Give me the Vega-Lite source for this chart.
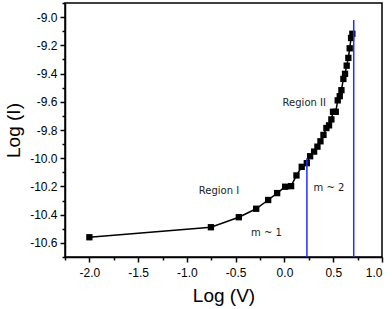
{
  "$schema": "https://vega.github.io/schema/vega-lite/v6.json",
  "width": 317,
  "height": 254,
  "autosize": {"type": "none"},
  "padding": {"left": 65, "top": 3, "right": 10, "bottom": 52},
  "background": "white",
  "config": {
    "locale": {"number": {"decimal": ".", "thousands": ",", "grouping": [3], "currency": ["$", ""], "minus": "-"}},
    "view": {"stroke": "black", "strokeWidth": 1.5},
    "axis": {
      "grid": false,
      "domainColor": "black",
      "domainWidth": 1.5,
      "tickColor": "black",
      "tickWidth": 1.5,
      "tickSize": 5,
      "labelFont": "Liberation Sans",
      "labelFontSize": 12,
      "labelColor": "black",
      "labelPadding": 3,
      "titleFont": "Liberation Sans",
      "titleFontSize": 19,
      "titleFontWeight": "normal",
      "titleColor": "black"
    }
  },
  "datasets": {
    "iv": [
      {"logV": -2.0, "logI": -10.56},
      {"logV": -0.754, "logI": -10.489},
      {"logV": -0.468, "logI": -10.418},
      {"logV": -0.29, "logI": -10.358},
      {"logV": -0.167, "logI": -10.296},
      {"logV": -0.075, "logI": -10.247},
      {"logV": 0.007, "logI": -10.202},
      {"logV": 0.068, "logI": -10.198},
      {"logV": 0.123, "logI": -10.122},
      {"logV": 0.177, "logI": -10.061},
      {"logV": 0.229, "logI": -10.035},
      {"logV": 0.263, "logI": -9.986},
      {"logV": 0.304, "logI": -9.953},
      {"logV": 0.338, "logI": -9.918},
      {"logV": 0.369, "logI": -9.88},
      {"logV": 0.4, "logI": -9.835},
      {"logV": 0.43, "logI": -9.786},
      {"logV": 0.457, "logI": -9.767},
      {"logV": 0.481, "logI": -9.725},
      {"logV": 0.498, "logI": -9.671},
      {"logV": 0.526, "logI": -9.671},
      {"logV": 0.546, "logI": -9.59},
      {"logV": 0.567, "logI": -9.56},
      {"logV": 0.584, "logI": -9.518},
      {"logV": 0.604, "logI": -9.438},
      {"logV": 0.621, "logI": -9.402},
      {"logV": 0.638, "logI": -9.344},
      {"logV": 0.655, "logI": -9.289},
      {"logV": 0.669, "logI": -9.221},
      {"logV": 0.683, "logI": -9.148},
      {"logV": 0.696, "logI": -9.118}
    ],
    "rules": [
      {"logV": 0.23, "top": -10.0, "bottom": -10.7},
      {"logV": 0.71, "top": -9.02, "bottom": -10.7}
    ],
    "labels": [
      {"logV": -0.671, "logI": -10.23, "text": "Region I"},
      {"logV": 0.203, "logI": -9.611, "text": "Region II"},
      {"logV": -0.184, "logI": -10.532, "text": "m ~ 1"},
      {"logV": 0.456, "logI": -10.209, "text": "m ~ 2"}
    ]
  },
  "resolve": {"axis": {"x": "independent", "y": "independent"}},
  "layer": [
    {
      "data": {"name": "iv"},
      "mark": {"type": "line", "color": "black", "strokeWidth": 1.5, "point": {"shape": "square", "size": 40, "filled": true, "color": "black", "opacity": 1}},
      "encoding": {
        "x": {"field": "logV", "type": "quantitative", "scale": {"domain": [-2.25, 1.0], "nice": false, "zero": false},
              "axis": {"orient": "bottom", "title": "Log (V)", "values": [-2.0, -1.5, -1.0, -0.5, 0.0, 0.5, 1.0], "format": ".1f", "labelPadding": 5, "titlePadding": 8}},
        "y": {"field": "logI", "type": "quantitative", "scale": {"domain": [-10.7, -8.9], "nice": false, "zero": false},
              "axis": {"orient": "left", "title": "Log (I)", "values": [-9.0, -9.2, -9.4, -9.6, -9.8, -10.0, -10.2, -10.4, -10.6], "format": ".1f", "titlePadding": 6}}
      }
    },
    {
      "data": {"name": "rules"},
      "mark": {"type": "rule", "color": "#1f2fff", "strokeWidth": 1.5},
      "encoding": {
        "x": {"field": "logV", "type": "quantitative", "scale": {"domain": [-2.25, 1.0], "nice": false, "zero": false},
              "axis": {"orient": "bottom", "title": null, "labels": false, "domain": false, "tickSize": 3, "values": [-2.25, -1.75, -1.25, -0.75, -0.25, 0.25, 0.75]}},
        "y": {"field": "top", "type": "quantitative", "scale": {"domain": [-10.7, -8.9], "nice": false, "zero": false},
              "axis": {"orient": "left", "title": null, "labels": false, "domain": false, "tickSize": 3, "values": [-8.9, -9.1, -9.3, -9.5, -9.7, -9.9, -10.1, -10.3, -10.5, -10.7]}},
        "y2": {"field": "bottom"}
      }
    },
    {
      "data": {"name": "labels"},
      "mark": {"type": "text", "font": "DejaVu Sans", "fontSize": 10, "color": "#222222", "align": "center", "baseline": "middle"},
      "encoding": {
        "x": {"field": "logV", "type": "quantitative", "axis": null},
        "y": {"field": "logI", "type": "quantitative", "axis": null},
        "text": {"field": "text"}
      }
    }
  ]
}
